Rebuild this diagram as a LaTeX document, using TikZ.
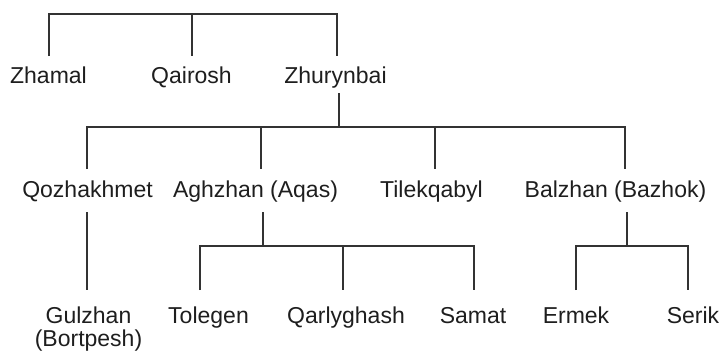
\documentclass[tikz,border=0pt]{standalone}
\usepackage{fontspec}
\setmainfont{Liberation Sans}
\definecolor{txt}{HTML}{1E1E1E}
\definecolor{ln}{HTML}{333333}
\begin{document}
\begin{tikzpicture}[x=1pt,y=-1pt,
  person/.style={anchor=base,inner sep=0pt,font=\fontsize{23}{22}\selectfont,text=txt},
  link/.style={draw=ln,line width=1.3pt,line cap=butt}]
\useasboundingbox (0,0) rectangle (722,351);
% generation 1
\node[person] (zhamal) at (48.5,83) {Zhamal};
\node[person] (qairosh) at (191.5,83) {Qairosh};
\node[person] (zhurynbai) at (335.5,83) {Zhurynbai};
% generation 2
\node[person] (qozhakhmet) at (87.5,197) {Qozhakhmet};
\node[person] (aghzhan) at (255.5,197) {Aghzhan (Aqas)};
\node[person] (tilek) at (431.5,197) {Tilekqabyl};
\node[person] (balzhan) at (615.5,197) {Balzhan (Bazhok)};
% generation 3
\node[person] (gulzhan) at (88.5,323) {\begin{tabular}[t]{@{}c@{}}Gulzhan\\(Bortpesh)\end{tabular}};
\node[person] (tolegen) at (208.5,323) {Tolegen};
\node[person] (qarly) at (346,323) {Qarlyghash};
\node[person] (samat) at (473,323) {Samat};
\node[person] (ermek) at (576,323) {Ermek};
\node[person] (serik) at (693,323) {Serik};
% connector end points
\coordinate (zhamalT) at (49,56);
\coordinate (qairoshT) at (192,56);
\coordinate (zhurynbaiT) at (337,56);
\coordinate (bar1) at (192,14);
\coordinate (zhurynbaiB) at (339,93);
\coordinate (bar2) at (339,127);
\coordinate (qozhakhmetT) at (87,169);
\coordinate (aghzhanT) at (261,169);
\coordinate (tilekT) at (435,169);
\coordinate (balzhanT) at (625,169);
\coordinate (qozhakhmetB) at (87,212);
\coordinate (gulzhanT) at (87,290);
\coordinate (aghzhanB) at (263,212);
\coordinate (bar3) at (263,246);
\coordinate (tolegenT) at (200,290);
\coordinate (qarlyT) at (343,290);
\coordinate (samatT) at (474,290);
\coordinate (balzhanB) at (627,212);
\coordinate (bar4) at (627,246);
\coordinate (ermekT) at (576,290);
\coordinate (serikT) at (688,290);
% connectors
\draw[link] (zhamalT) |- (bar1) -| (zhurynbaiT);
\draw[link] (bar1) -- (qairoshT);
\draw[link] (zhurynbaiB) -- (bar2);
\draw[link] (qozhakhmetT) |- (bar2) -| (balzhanT);
\draw[link] (aghzhanT |- bar2) -- (aghzhanT);
\draw[link] (tilekT |- bar2) -- (tilekT);
\draw[link] (qozhakhmetB) -- (gulzhanT);
\draw[link] (aghzhanB) -- (bar3);
\draw[link] (tolegenT) |- (bar3) -| (samatT);
\draw[link] (qarlyT |- bar3) -- (qarlyT);
\draw[link] (balzhanB) -- (bar4);
\draw[link] (ermekT) |- (bar4) -| (serikT);
\end{tikzpicture}
\end{document}
